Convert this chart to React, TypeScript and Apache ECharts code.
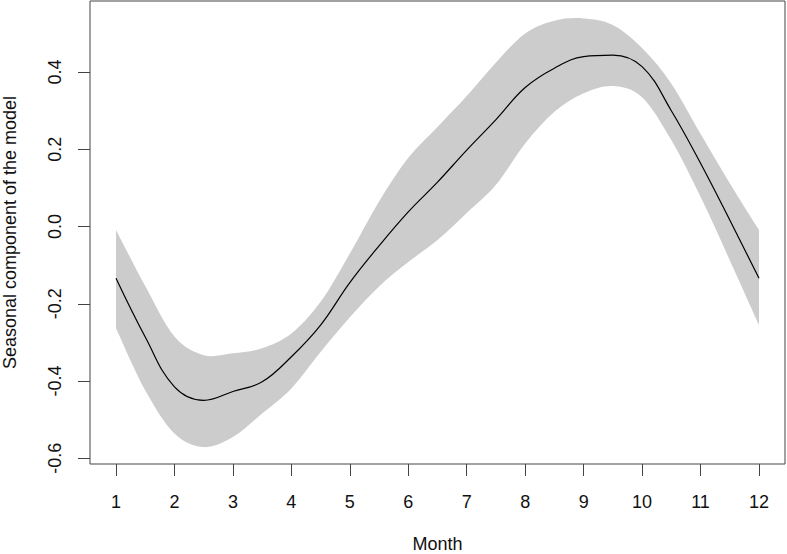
import React, { useEffect, useRef } from "react";
import * as echarts from "echarts";

const months = [1, 1.5, 2, 2.5, 3, 3.5, 4, 4.5, 5, 5.5, 6, 6.5, 7, 7.5, 8, 8.5, 9, 9.5, 10, 10.5, 11, 11.5, 12];
const fitValues = [-0.134, -0.286, -0.415, -0.45, -0.427, -0.402, -0.337, -0.255, -0.145, -0.05, 0.038, 0.115, 0.198, 0.277, 0.36, 0.41, 0.44, 0.444, 0.414, 0.3, 0.164, 0.017, -0.134];
const upperValues = [-0.009, -0.154, -0.285, -0.333, -0.328, -0.315, -0.277, -0.195, -0.07, 0.065, 0.178, 0.258, 0.338, 0.425, 0.5, 0.533, 0.539, 0.522, 0.462, 0.37, 0.24, 0.112, -0.009];
const lowerValues = [-0.263, -0.424, -0.536, -0.571, -0.545, -0.484, -0.419, -0.325, -0.235, -0.155, -0.092, -0.035, 0.035, 0.108, 0.215, 0.297, 0.345, 0.364, 0.335, 0.224, 0.077, -0.087, -0.255];
const xTicks = [1, 2, 3, 4, 5, 6, 7, 8, 9, 10, 11, 12];
const yTicks = [-0.6, -0.4, -0.2, 0, 0.2, 0.4];

const FONT = "'Liberation Sans', Arial, sans-serif";

type Pt = number[];

function smoothSegs(pts: Pt[], start: boolean): string {
  let d = "";
  if (start) d += `M${pts[0][0]},${pts[0][1]}`;
  else d += `L${pts[0][0]},${pts[0][1]}`;
  const n = pts.length;
  for (let i = 0; i < n - 1; i++) {
    const p0 = pts[Math.max(0, i - 1)];
    const p1 = pts[i];
    const p2 = pts[i + 1];
    const p3 = pts[Math.min(n - 1, i + 2)];
    const c1x = p1[0] + (p2[0] - p0[0]) / 6;
    const c1y = p1[1] + (p2[1] - p0[1]) / 6;
    const c2x = p2[0] - (p3[0] - p1[0]) / 6;
    const c2y = p2[1] - (p3[1] - p1[1]) / 6;
    d += `C${c1x},${c1y},${c2x},${c2y},${p2[0]},${p2[1]}`;
  }
  return d;
}

export default function App() {
  const ref = useRef<HTMLDivElement>(null);
  useEffect(() => {
    if (!ref.current) return;
    const chart = echarts.init(ref.current, null, { renderer: "svg" });
    const axisColor = "#444";
    chart.setOption({
      animation: false,
      backgroundColor: "#ffffff",
      grid: {
        left: 90,
        right: 2,
        top: 1,
        bottom: 90,
        show: true,
        borderColor: axisColor,
        borderWidth: 1,
        backgroundColor: "transparent",
        containLabel: false,
        outerBoundsMode: "none",
      },
      xAxis: {
        type: "value",
        min: 0.555,
        max: 12.445,
        name: "Month",
        nameLocation: "middle",
        nameGap: 71,
        nameTextStyle: { fontFamily: FONT, fontSize: 18, color: "#111" },
        axisLine: { show: false, onZero: false },
        splitLine: { show: false },
        axisTick: {
          show: true,
          length: 12,
          customValues: xTicks,
          lineStyle: { color: axisColor, width: 1 },
        },
        axisLabel: {
          customValues: xTicks,
          margin: 29,
          fontFamily: FONT,
          fontSize: 18,
          color: "#111",
        },
      },
      yAxis: {
        type: "value",
        min: -0.6148,
        max: 0.584,
        name: "Seasonal component of the model",
        nameLocation: "middle",
        nameGap: 71,
        nameRotate: 90,
        nameTextStyle: { fontFamily: FONT, fontSize: 18, color: "#111" },
        axisLine: { show: false, onZero: false },
        splitLine: { show: false },
        axisTick: {
          show: true,
          length: 12,
          customValues: yTicks,
          lineStyle: { color: axisColor, width: 1 },
        },
        axisLabel: {
          customValues: yTicks,
          rotate: 90,
          margin: 26,
          fontFamily: FONT,
          fontSize: 18,
          color: "#111",
          formatter: (v: number) => v.toFixed(1),
        },
      },
      series: [
        {
          type: "custom",
          data: [0],
          silent: true,
          z: 1,
          renderItem: (params: any, api: any) => {
            const up = months.map((m, i) => api.coord([m, upperValues[i]]));
            const lo = months.map((m, i) => api.coord([m, lowerValues[i]])).reverse();
            const d = smoothSegs(up, true) + smoothSegs(lo, false) + "Z";
            return {
              type: "path",
              shape: { pathData: d },
              style: { fill: "#cccccc", stroke: "none" },
            };
          },
        },
        {
          type: "line",
          data: months.map((m, i) => [m, fitValues[i]]),
          symbol: "none",
          smooth: 0.4,
          lineStyle: { color: "#000", width: 1.2 },
          z: 3,
        },
      ],
    });
    return () => chart.dispose();
  }, []);
  return <div ref={ref} style={{ width: 787, height: 554, position: "absolute", left: 0, top: 0 }} />;
}
